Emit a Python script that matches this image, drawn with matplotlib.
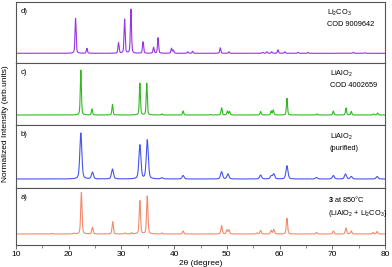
import numpy as np
import matplotlib
matplotlib.use("Agg")
import matplotlib.pyplot as plt
from matplotlib.ticker import MultipleLocator

plt.rcParams['font.family'] = ['Liberation Sans', 'DejaVu Sans']
plt.rcParams['mathtext.fontset'] = 'custom'
plt.rcParams['mathtext.rm'] = 'Liberation Sans'
plt.rcParams['mathtext.bf'] = 'Liberation Sans:bold'

# ---- data: peak positions (2theta) and relative heights ----
d_pos = [21.3, 23.45, 29.45, 30.6, 31.8, 34.1, 36.1, 36.95, 39.5, 39.85, 42.6, 43.5,
         48.75, 50.4, 56.8, 57.6, 58.5, 59.7, 61.0, 63.5, 65.4, 74.0, 76.2]
d_int = [35, 5, 10.5, 34, 44, 11.5, 6, 15.5, 5, 3, 1.5, 2,
         5.5, 1.5, 1, 1.5, 1.5, 3.5, 1.5, 1, 1, 1, 0.5]

c_pos = [22.3, 24.4, 28.3, 33.5, 34.8, 37.7, 41.7, 46.9, 49.0, 50.1, 50.5, 56.4,
         58.4, 58.8, 61.4, 67.1, 70.2, 72.6, 73.6, 77.8, 78.6]
c_int = [45, 6, 10.7, 31.7, 31.7, 1, 4, 0.5, 7.3, 4, 3.5, 3.5,
         4, 5, 16.7, 1, 4, 7, 3.5, 1, 2]

b_pos = [22.3, 24.5, 28.3, 33.5, 34.9, 37.7, 41.7, 49.0, 50.2, 56.4, 58.4, 58.9,
         61.4, 67.0, 70.2, 72.5, 73.6, 78.5]
b_int = [46, 6.7, 10, 34, 39, 1.2, 3.5, 7.3, 5, 4, 3, 5,
         13.3, 1.5, 3.5, 5, 2.5, 2.5]

a_pos = [16.8, 21.0, 22.4, 24.5, 28.35, 30.7, 31.9, 33.5, 34.9, 37.7, 41.7, 49.0,
         50.0, 50.4, 55.7, 56.4, 58.4, 58.9, 61.4, 67.0, 70.2, 72.6, 73.6, 77.7, 78.5]
a_int = [0.5, 0.8, 41.7, 6.7, 12.3, 1, 1.2, 33.3, 38, 1, 3, 8.3,
         4, 4, 1, 3.5, 3.5, 4.5, 15.7, 1.5, 3, 6, 3, 1.5, 2.5]

labels = ["d)", "c)", "b)", "a)"]
notes = ["Li$_2$CO$_3$\nCOD 9009642",
         "LiAlO$_2$\nCOD 4002659",
         "LiAlO$_2$\n(purified)",
         r"$\mathbf{3}$ at 850°C" + "\n(LiAlO$_2$ + Li$_2$CO$_3$)"]
note_x = [0.843, 0.85, 0.85, 0.846]
colors = ["#9933e6", "#33b824", "#4455ee", "#f4896c"]
widths = [0.25, 0.25, 0.45, 0.3]
# panel geometry (pixel heights, baseline offset)
heights = [61, 62, 63, 57]
base_off = [9.7, 10, 9, 11]

two_theta = np.linspace(10, 80, 5000)


def pattern(pos, inten, w):
    y = np.zeros_like(two_theta)
    for p, h in zip(pos, inten):
        g = np.exp(-4 * np.log(2) * ((two_theta - p) / w) ** 2)
        l = 1 / (1 + 4 * ((two_theta - p) / w) ** 2)
        y += h * (0.6 * g + 0.4 * l)
    return y


series = [(d_pos, d_int), (c_pos, c_int), (b_pos, b_int), (a_pos, a_int)]

fig = plt.figure(figsize=(3.92, 2.67), dpi=100)
gs = fig.add_gridspec(4, 1, height_ratios=heights, hspace=0,
                      left=16 / 392, right=385 / 392, top=1 - 2 / 267, bottom=1 - 245 / 267)

spine_col = "#555555"
for i, (pos, inten) in enumerate(series):
    ax = fig.add_subplot(gs[i])
    y = pattern(pos, inten, widths[i])
    ax.plot(two_theta, y, color=colors[i], lw=0.8)
    ax.set_xlim(10, 80)
    ax.set_ylim(-base_off[i], heights[i] - base_off[i])
    ax.set_yticks([])
    for s in ax.spines.values():
        s.set_color(spine_col)
        s.set_linewidth(0.8)
    ax.xaxis.set_major_locator(MultipleLocator(10))
    ax.xaxis.set_minor_locator(MultipleLocator(5))
    if i < 3:
        ax.tick_params(axis="x", which="both", bottom=False, labelbottom=False)
    else:
        ax.tick_params(axis="x", which="major", length=3, width=0.6, color=spine_col,
                       labelsize=6, pad=1.5)
        ax.tick_params(axis="x", which="minor", length=2, width=0.5, color=spine_col)
        ax.set_xlabel("2θ (degree)", fontsize=6, labelpad=1.5)
    ax.text(0.012, 0.9, labels[i], transform=ax.transAxes, fontsize=5.5,
            ha="left", va="top")
    ax.text(note_x[i], 0.9, notes[i], transform=ax.transAxes, fontsize=5.3,
            ha="left", va="top", linespacing=1.6)

fig.text(0.013, 0.537, "Normalized Intensity (arb.units)", rotation=90,
         fontsize=6, ha="center", va="center")

fig.savefig("out.png", dpi=100)
